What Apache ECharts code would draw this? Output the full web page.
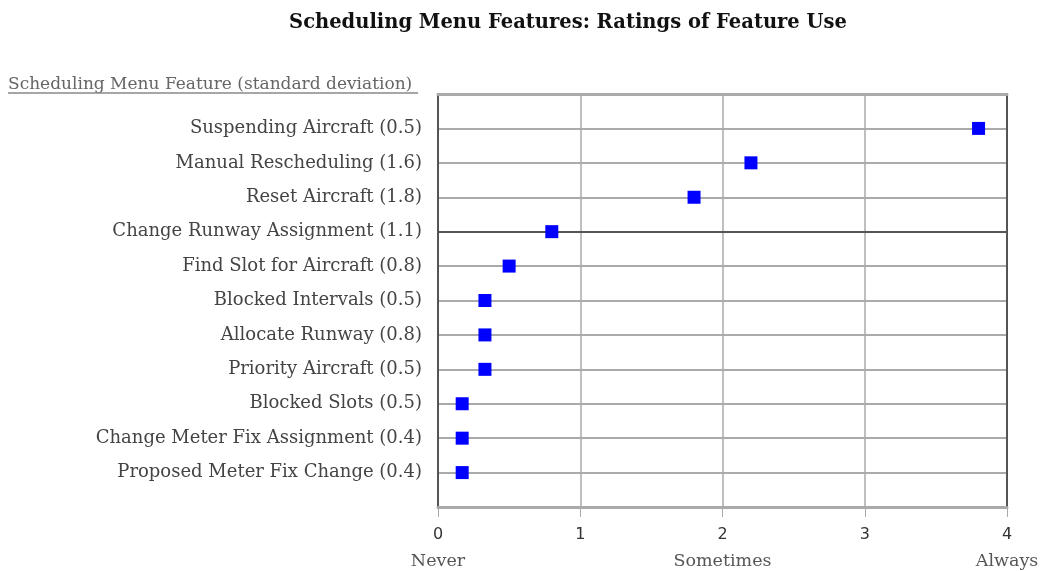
<!DOCTYPE html>
<html>
<head>
<meta charset="utf-8">
<script src="https://cdn.jsdelivr.net/npm/echarts@6/dist/echarts.min.js"></script>
<style>
  html, body { margin: 0; padding: 0; background: #fff; }
  #main { width: 1049px; height: 571px; }
</style>
</head>
<body>
<div id="main"></div>
<script>
// features, top to bottom, with std deviation in the label
var features = [
  'Suspending Aircraft (0.5)',
  'Manual Rescheduling (1.6)',
  'Reset Aircraft (1.8)',
  'Change Runway Assignment (1.1)',
  'Find Slot for Aircraft (0.8)',
  'Blocked Intervals (0.5)',
  'Allocate Runway (0.8)',
  'Priority Aircraft (0.5)',
  'Blocked Slots (0.5)',
  'Change Meter Fix Assignment (0.4)',
  'Proposed Meter Fix Change (0.4)'
];
var ratings = [3.8, 2.2, 1.8, 0.8, 0.5, 0.33, 0.33, 0.33, 0.17, 0.17, 0.17];
var xTicks = [0, 1, 2, 3, 4];
var xWords = { 0: 'Never', 2: 'Sometimes', 4: 'Always' };

var chart = echarts.init(document.getElementById('main'));

// one empty slot above and below so the rows sit a step inside the frame
var cats = [''].concat(features).concat(['']);
var points = ratings.map(function (v, i) { return [v, i + 1]; });

var serif = 'DejaVu Serif';

var option = {
  animation: false,
  title: {
    text: 'Scheduling Menu Features: Ratings of Feature Use',
    left: 563,
    textAlign: 'center',
    top: 8,
    textStyle: { fontFamily: serif, fontWeight: 'bold', fontSize: 19.5, color: '#111' }
  },
  graphic: [
    {
      type: 'text', left: 8, top: 76,
      style: { text: 'Scheduling Menu Feature (standard deviation)', font: '17px "DejaVu Serif"', fill: '#666' }
    },
    {
      type: 'line', shape: { x1: 8, y1: 93, x2: 418, y2: 93 },
      style: { stroke: '#888', lineWidth: 1.5 }
    }
  ],
  grid: { left: 438, right: 42, top: 94, bottom: 64, outerBoundsMode: 'none' },
  xAxis: [{
    type: 'value',
    min: 0, max: 4, interval: 1,
    axisLine: { show: true, lineStyle: { color: '#aaa', width: 3 } },
    axisTick: { show: true, length: 10, lineStyle: { color: '#aaa' } },
    splitLine: { show: true, lineStyle: { color: '#aaa', width: 1.5 } },
    axisLabel: {
      margin: 14,
      lineHeight: 27,
      formatter: function (v) {
        return '{n|' + v + '}\n{w|' + (xWords[v] || ' ') + '}';
      },
      rich: {
        n: { fontFamily: 'DejaVu Sans', fontSize: 16, color: '#333' },
        w: { fontFamily: serif, fontSize: 17.5, color: '#555' }
      }
    }
  }, {
    type: 'value', position: 'top',
    min: 0, max: 4, interval: 1,
    axisLine: { show: true, lineStyle: { color: '#aaa', width: 3 } },
    axisTick: { show: false }, axisLabel: { show: false }, splitLine: { show: false }
  }],
  yAxis: [{
    type: 'category',
    data: cats,
    inverse: true,
    boundaryGap: false,
    axisLine: { show: true, onZero: false, lineStyle: { color: '#555', width: 2 } },
    axisTick: { show: false },
    splitLine: { show: true, lineStyle: { color: '#aaa', width: 2 } },
    axisLabel: { margin: 16, fontFamily: serif, fontSize: 18, color: '#444' }
  }, {
    type: 'category',
    data: cats,
    inverse: true,
    position: 'right',
    boundaryGap: false,
    axisLine: { show: true, onZero: false, lineStyle: { color: '#555', width: 2 } },
    axisTick: { show: false }, axisLabel: { show: false }, splitLine: { show: false }
  }],
  series: [{
    type: 'scatter',
    symbol: 'rect',
    symbolSize: 13,
    itemStyle: { color: '#0000ff', opacity: 1 },
    data: points,
    markLine: {
      silent: true, symbol: 'none', label: { show: false },
      lineStyle: { color: '#555', width: 2, type: 'solid' },
      data: [{ yAxis: 4 }]
    },
    z: 5
  }]
};

chart.setOption(option);
</script>
</body>
</html>
